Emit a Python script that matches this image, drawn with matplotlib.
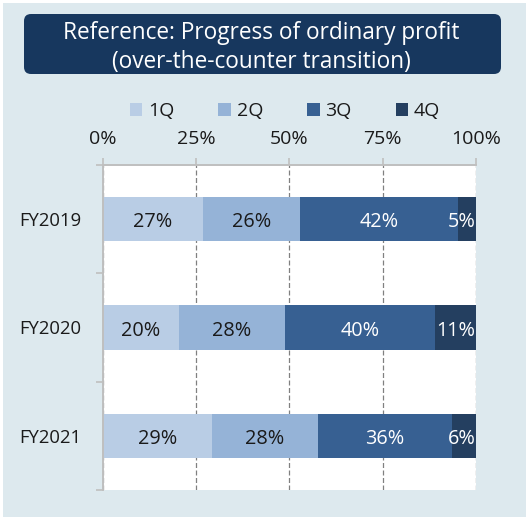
import matplotlib
matplotlib.use("Agg")
import matplotlib.pyplot as plt
from matplotlib.patches import FancyBboxPatch, Rectangle, Patch
import numpy as np

plt.rcParams['font.family'] = ['Open Sans', 'DejaVu Sans']

# ---- data (share of full-year ordinary profit, %) ----
years = ["FY2019", "FY2020", "FY2021"]
quarters = ["1Q", "2Q", "3Q", "4Q"]
q1 = [26.8, 20.4, 29.3]
q2 = [26.1, 28.4, 28.4]
q3 = [42.3, 40.2, 35.9]
q4 = [4.8, 11.0, 6.4]
x_ticks = [0, 25, 50, 75, 100]
x_ticklabels = ["0%", "25%", "50%", "75%", "100%"]

colors = ["#b9cde5", "#95b3d7", "#376092", "#243f60"]
label_colors = ["#1a1a1a", "#1a1a1a", "white", "white"]
bg = "#dde9ee"
navy = "#17375e"
txt = "#1a1a1a"

W, H = 529, 519
fig = plt.figure(figsize=(W / 100, H / 100), dpi=100)
fig.patch.set_facecolor("white")

# light blue panel behind everything
fig.patches.append(Rectangle((3 / W, 2 / H), 523 / W, 514 / H, transform=fig.transFigure,
                             facecolor=bg, edgecolor="none", zorder=-5))
# title box
fig.patches.append(FancyBboxPatch((24 / 100, (H - 74) / 100), 477 / 100, 60 / 100,
                                  boxstyle="round,pad=0,rounding_size=0.07",
                                  transform=fig.dpi_scale_trans,
                                  facecolor=navy, edgecolor="none", zorder=-4))
fig.text(261 / W, 1 - 47.5 / H, "Reference: Progress of ordinary profit\n(over-the-counter transition)",
         ha="center", va="center", color="white", fontsize=16.3, linespacing=1.3)

ax = fig.add_axes([102.5 / W, 29 / H, 373.5 / W, 325 / H])
ax.set_facecolor("white")

data = [q1, q2, q3, q4]
ypos = np.arange(len(years))
left = np.zeros(len(years))
for i, vals in enumerate(data):
    vals = np.array(vals)
    ax.barh(ypos, vals, left=left, height=0.41, color=colors[i], label=quarters[i], zorder=2)
    for j, v in enumerate(vals):
        cx = min(left[j] + v / 2, 96.3)
        ax.text(cx, ypos[j] + 0.03, f"{v:.0f}%", ha="center", va="center",
                fontsize=14.3, color=label_colors[i], zorder=3)
    left += vals

ax.set_xlim(0, 100)
ax.set_ylim(len(years) - 0.5, -0.5)

ax.xaxis.tick_top()
ax.set_xticks(x_ticks)
ax.set_xticklabels(x_ticklabels, fontsize=14, color=txt)
ax.tick_params(axis="x", length=5, width=1.2, color="#bfbfbf", pad=7)
ax.xaxis.grid(True, color="#808080", linestyle=(0, (4, 2)), linewidth=0.9)
ax.set_axisbelow(True)

ax.set_yticks(ypos)
ax.set_yticklabels(years, fontsize=13.3, color=txt)
ax.set_yticks(np.arange(-0.5, len(years)), minor=True)
ax.tick_params(axis="y", which="major", length=0, pad=15.5)
ax.tick_params(axis="y", which="minor", length=5, width=1.2, color="#bfbfbf")

for s in ["right", "bottom"]:
    ax.spines[s].set_visible(False)
for s in ["top", "left"]:
    ax.spines[s].set_color("#bfbfbf")
    ax.spines[s].set_linewidth(1.4)

handles = [Patch(facecolor=c, edgecolor="none") for c in colors]
fig.legend(handles, quarters, loc="center", bbox_to_anchor=(285 / W, 1 - 111 / H),
           ncol=4, frameon=False, fontsize=14, handlelength=0.65, handleheight=0.65,
           handletextpad=0.3, columnspacing=2.25, labelcolor=txt)

fig.savefig("out.png", dpi=100, facecolor=fig.get_facecolor())
